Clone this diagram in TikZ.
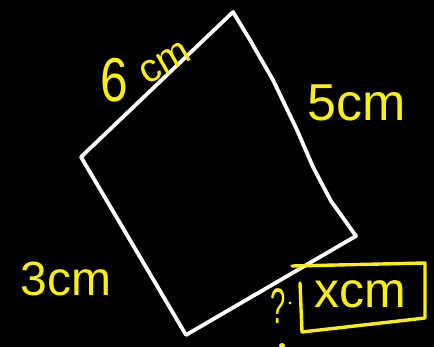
\documentclass[tikz,border=0pt]{standalone}
\usepackage{fontspec}
\setmainfont{Liberation Sans}
\definecolor{hand}{RGB}{250,238,20}
\begin{document}
\begin{tikzpicture}[x=1pt,y=-1pt,
  quadline/.style={draw=white,line width=3.8pt,line join=round,line cap=round},
  ink/.style={draw=hand,line width=3.4pt,line join=round,line cap=round},
  lab/.style={text=hand,inner sep=0pt}]
\fill[black] (0,0) rectangle (434,347);
\useasboundingbox (0,0) rectangle (434,347);
% quadrilateral
\coordinate (T) at (233,12);
\coordinate (R) at (356,236);
\coordinate (B) at (186,335);
\coordinate (L) at (81,157);
\draw[quadline] (B) -- (L) -- (T) -- (250,40) -- (273,80) -- (297,130) -- (313,167) -- (331,201) -- (R) -- cycle;
% labels
\node[lab] (six) at (114,80) {\fontsize{62}{62}\selectfont\scalebox{0.8}[1]{6}};
\node[lab,rotate=30] (cm6) at (165,63) {\fontsize{40}{40}\selectfont cm};
\node[lab] (five) at (357,103) {\fontsize{52}{52}\selectfont 5cm};
\node[lab] (three) at (66,279) {\fontsize{48}{48}\selectfont 3cm};
\node[lab] (xcm) at (360,294) {\fontsize{50}{50}\selectfont xcm};
\node[lab] (q) at (278,306) {\fontsize{50}{50}\selectfont\scalebox{0.55}[1]{?}};
\fill[hand] (290,303) circle (1.6pt);
% box
\coordinate (b1) at (292,266);
\coordinate (b2) at (425,263);
\coordinate (b3) at (425,318);
\coordinate (b4) at (302,332);
\coordinate (b5) at (300,283);
\draw[ink] (b1) -- (b2) -- (b3) -- (b4) -- (b5);
\fill[hand] (282,346) circle (3pt);
\end{tikzpicture}
\end{document}
